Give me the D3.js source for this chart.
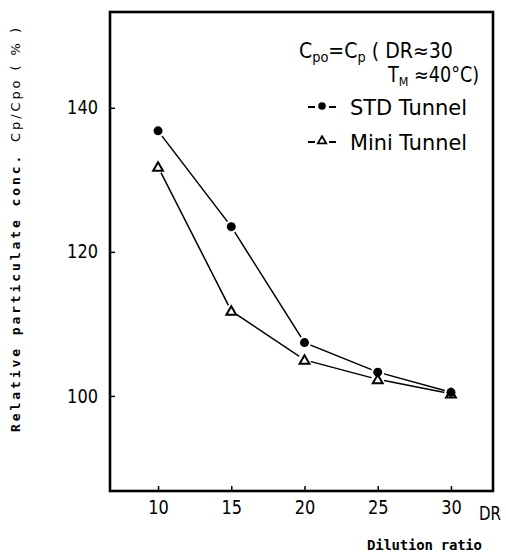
<!DOCTYPE html>
<html><head><meta charset="utf-8">
<script src="https://cdn.jsdelivr.net/npm/d3@7"></script>
<style>
body{margin:0;background:#fff;}
svg{display:block;}
.cond{font-family:"DejaVu Sans",sans-serif;}
</style></head>
<body>
<script>
const dilution = [10, 15, 20, 25, 30];
const stdTunnel = [136.8, 123.5, 107.4, 103.3, 100.5];
const miniTunnel = [131.8, 111.8, 105.0, 102.3, 100.3];
const xTicks = [10, 15, 20, 25, 30];
const yTicks = [100, 120, 140];
const seriesNames = ["STD Tunnel", "Mini Tunnel"];

const W = 506, H = 553;
const L = 110, R = 493, T = 12, B = 491;
const svg = d3.select("body").append("svg").attr("width", W).attr("height", H);

const x = d3.scaleLinear().domain([6.72, 32.87]).range([L, R]);
const y = d3.scaleLinear().domain([86.8, 153.3]).range([B, T]);

// axes
const xa = svg.append("g").attr("transform", `translate(0,${B})`)
  .call(d3.axisBottom(x).tickValues(xTicks).tickSize(-5).tickPadding(10));
const ya = svg.append("g").attr("transform", `translate(${L},0)`)
  .call(d3.axisLeft(y).tickValues(yTicks).tickSize(-5).tickPadding(12));
[xa, ya].forEach(g => {
  g.select(".domain").remove();
  g.selectAll(".tick line").attr("stroke", "#000").attr("stroke-width", 1.5);
  g.selectAll(".tick text").attr("class", "cond").attr("font-size", 19).attr("fill", "#000")
    .attr("textLength", function() { return this.textContent.length * 10.3; })
    .attr("lengthAdjust", "spacingAndGlyphs");
});

// frame
svg.append("rect").attr("x", L).attr("y", T).attr("width", R - L).attr("height", B - T)
  .attr("fill", "none").attr("stroke", "#000").attr("stroke-width", 2.6);

// DR label
svg.append("text").attr("class", "cond").attr("x", 479).attr("y", 520)
  .attr("font-size", 19).attr("textLength", 22).attr("lengthAdjust", "spacingAndGlyphs").text("DR");

// lines
const line = d3.line().x((d, i) => x(dilution[i])).y(d => y(d));
svg.append("path").datum(stdTunnel).attr("d", line).attr("fill", "none")
  .attr("stroke", "#000").attr("stroke-width", 1.5);
svg.append("path").datum(miniTunnel).attr("d", line).attr("fill", "none")
  .attr("stroke", "#000").attr("stroke-width", 1.5);

// markers with white halo
const tri = d3.symbol().type(d3.symbolTriangle).size(42);
svg.selectAll(".mh").data(miniTunnel).enter().append("circle")
  .attr("cx", (d, i) => x(dilution[i])).attr("cy", d => y(d)).attr("r", 6.5).attr("fill", "#fff");
svg.selectAll(".sh").data(stdTunnel).enter().append("circle")
  .attr("cx", (d, i) => x(dilution[i])).attr("cy", d => y(d)).attr("r", 6.5).attr("fill", "#fff");
svg.selectAll(".mt").data(miniTunnel).enter().append("path")
  .attr("d", tri).attr("transform", (d, i) => `translate(${x(dilution[i])},${y(d)+1})`)
  .attr("fill", "#fff").attr("stroke", "#000").attr("stroke-width", 2);
svg.selectAll(".sd").data(stdTunnel).enter().append("circle")
  .attr("cx", (d, i) => x(dilution[i])).attr("cy", d => y(d)).attr("r", 4.5).attr("fill", "#000");

// annotation (horizontally condensed to match the narrow lettering)
function condensed(x0, y0, target, build) {
  const g = svg.append("g");
  const t = g.append("text").attr("class", "cond").attr("font-size", 20.5);
  build(t);
  const w = t.node().getBBox().width;
  g.attr("transform", `translate(${x0},${y0}) scale(${target / w},1)`);
}
condensed(299, 58, 154, t1 => {
  t1.append("tspan").text("C");
  t1.append("tspan").attr("font-size", 14).attr("dy", 4).text("po");
  t1.append("tspan").attr("dy", -4).text("=C");
  t1.append("tspan").attr("font-size", 14).attr("dy", 4).text("p");
  t1.append("tspan").attr("dy", -4).text(" ( DR≈30");
});
condensed(388, 82, 92, t2 => {
  t2.append("tspan").text("T");
  t2.append("tspan").attr("font-size", 13).attr("dy", 4).text("M");
  t2.append("tspan").attr("dy", -4).text(" ≈40°C)");
});

// legend
const leg = svg.append("g");
[0, 1].forEach(i => {
  const ly = 107 + i * 35;
  const g = leg.append("g");
  g.append("line").attr("x1", 308).attr("x2", 315).attr("y1", ly).attr("y2", ly)
    .attr("stroke", "#000").attr("stroke-width", 2);
  g.append("line").attr("x1", 329).attr("x2", 336).attr("y1", ly).attr("y2", ly)
    .attr("stroke", "#000").attr("stroke-width", 2);
  if (i === 0) {
    g.append("circle").attr("cx", 322).attr("cy", ly - 1).attr("r", 3.8).attr("fill", "#000");
  } else {
    g.append("path").attr("d", d3.symbol().type(d3.symbolTriangle).size(30))
      .attr("transform", `translate(322,${ly - 1})`).attr("fill", "#fff")
      .attr("stroke", "#000").attr("stroke-width", 1.8);
  }
  g.append("text").attr("class", "cond").attr("x", 350).attr("y", ly + 8).attr("font-size", 21)
    .attr("textLength", 117).attr("lengthAdjust", "spacingAndGlyphs").text(seriesNames[i]);
});

// axis titles
const yt = svg.append("text").attr("transform", "translate(20,432) rotate(-90)")
  .attr("font-size", 13).attr("textLength", 404).attr("lengthAdjust", "spacing");
yt.append("tspan").attr("font-family", "'DejaVu Sans Mono',monospace").attr("font-weight", "bold")
  .text("Relative particulate conc. ");
yt.append("tspan").attr("font-family", "'DejaVu Sans',sans-serif").text("Cp/Cpo ( % )");

svg.append("text").attr("x", 367).attr("y", 550).attr("font-size", 14)
  .attr("font-family", "'DejaVu Sans Mono',monospace").attr("font-weight", "bold")
  .attr("textLength", 115).attr("lengthAdjust", "spacing").text("Dilution ratio");
</script>
</body></html>
